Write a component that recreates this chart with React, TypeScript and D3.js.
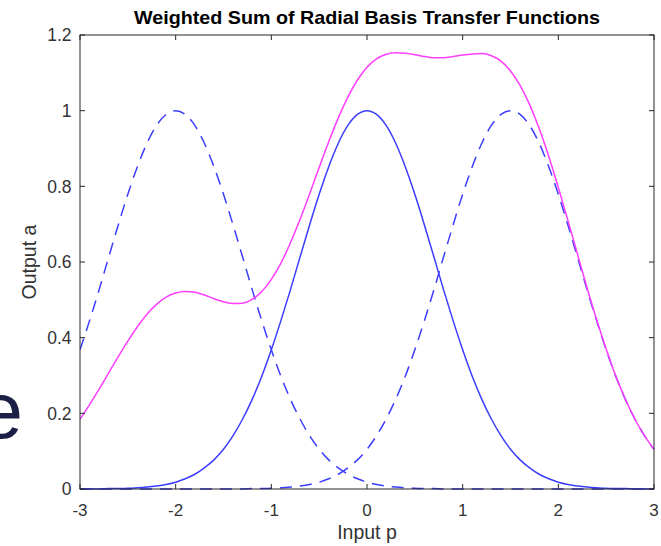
import React from "react";
import * as d3 from "d3";

// Input samples p = -3 : 0.1 : 3
const pValues: number[] = d3.range(61).map((i) => Math.round((i * 0.1 - 3) * 10) / 10);

// radbas(p)
const basisCenter: number[] = [
  0.000, 0.000, 0.000, 0.001, 0.001, 0.002, 0.003, 0.005, 0.008, 0.012,
  0.018, 0.027, 0.039, 0.056, 0.077, 0.105, 0.141, 0.185, 0.237, 0.298,
  0.368, 0.445, 0.527, 0.613, 0.698, 0.779, 0.852, 0.914, 0.961, 0.990,
  1.000, 0.990, 0.961, 0.914, 0.852, 0.779, 0.698, 0.613, 0.527, 0.445,
  0.368, 0.298, 0.237, 0.185, 0.141, 0.105, 0.077, 0.056, 0.039, 0.027,
  0.018, 0.012, 0.008, 0.005, 0.003, 0.002, 0.001, 0.001, 0.000, 0.000,
  0.000,
];

// radbas(p - 1.5)
const basisRight: number[] = [
  0.000, 0.000, 0.000, 0.000, 0.000, 0.000, 0.000, 0.000, 0.000, 0.000,
  0.000, 0.000, 0.000, 0.000, 0.000, 0.000, 0.000, 0.000, 0.001, 0.001,
  0.002, 0.003, 0.005, 0.008, 0.012, 0.018, 0.027, 0.039, 0.056, 0.077,
  0.105, 0.141, 0.185, 0.237, 0.298, 0.368, 0.445, 0.527, 0.613, 0.698,
  0.779, 0.852, 0.914, 0.961, 0.990, 1.000, 0.990, 0.961, 0.914, 0.852,
  0.779, 0.698, 0.613, 0.527, 0.445, 0.368, 0.298, 0.237, 0.185, 0.141,
  0.105,
];

// radbas(p + 2)
const basisLeft: number[] = [
  0.368, 0.445, 0.527, 0.613, 0.698, 0.779, 0.852, 0.914, 0.961, 0.990,
  1.000, 0.990, 0.961, 0.914, 0.852, 0.779, 0.698, 0.613, 0.527, 0.445,
  0.368, 0.298, 0.237, 0.185, 0.141, 0.105, 0.077, 0.056, 0.039, 0.027,
  0.018, 0.012, 0.008, 0.005, 0.003, 0.002, 0.001, 0.001, 0.000, 0.000,
  0.000, 0.000, 0.000, 0.000, 0.000, 0.000, 0.000, 0.000, 0.000, 0.000,
  0.000, 0.000, 0.000, 0.000, 0.000, 0.000, 0.000, 0.000, 0.000, 0.000,
  0.000,
];

// a + a2 + 0.5 * a3
const weightedSum: number[] = [
  0.184, 0.223, 0.264, 0.307, 0.350, 0.391, 0.429, 0.462, 0.488, 0.507,
  0.518, 0.522, 0.520, 0.513, 0.503, 0.495, 0.490, 0.491, 0.501, 0.522,
  0.554, 0.597, 0.651, 0.713, 0.780, 0.850, 0.918, 0.981, 1.036, 1.081,
  1.115, 1.137, 1.149, 1.153, 1.152, 1.148, 1.143, 1.140, 1.140, 1.143,
  1.147, 1.150, 1.151, 1.145, 1.131, 1.105, 1.067, 1.016, 0.953, 0.879,
  0.797, 0.710, 0.621, 0.532, 0.448, 0.370, 0.299, 0.238, 0.185, 0.141,
  0.105,
];

const xTicks: number[] = [-3, -2, -1, 0, 1, 2, 3];
const yTicks: number[] = [0, 0.2, 0.4, 0.6, 0.8, 1, 1.2];

const W = 661;
const H = 546;
const left = 80;
const right = 654;
const top = 35;
const bottom = 489;

const FONT = "Liberation Sans, Arial, Helvetica, sans-serif";
const BLUE = "#3d3dff";
const MAGENTA = "#ff3dff";
const AXIS = "#262626";
const TEXT = "#333333";

export default function App() {
  const x = d3.scaleLinear().domain([-3, 3]).range([left, right]);
  const y = d3.scaleLinear().domain([0, 1.2]).range([bottom, top]);

  const line = (vals: number[]) =>
    d3
      .line<number>()
      .x((_, i) => x(pValues[i]))
      .y((d) => y(d))
      .curve(d3.curveMonotoneX)(vals) || "";

  const tickLen = 5;

  return (
    <svg
      width={W}
      height={H}
      style={{ position: "absolute", left: 0, top: 0, background: "#fff" }}
      fontFamily={FONT}
    >
      <rect x={0} y={0} width={W} height={H} fill="#fff" />

      {/* large overlapping glyph at the left edge */}
      <text
        x={23}
        y={438}
        fontSize={80}
        textAnchor="end"
        fill="#1b1f45"
        fontFamily={FONT}
      >
        e
      </text>

      {/* title */}
      <text
        x={(left + right) / 2}
        y={23.5}
        textAnchor="middle"
        fontSize={19}
        fontWeight="bold"
        fill="#000"
        textLength={466}
        lengthAdjust="spacingAndGlyphs"
      >
        Weighted Sum of Radial Basis Transfer Functions
      </text>

      <g clipPath="url(#plotClip)">
        <defs>
          <clipPath id="plotClip">
            <rect x={left} y={top - 2} width={right - left + 1} height={bottom - top + 3} />
          </clipPath>
        </defs>
        <path d={line(basisCenter)} fill="none" stroke={BLUE} strokeWidth={1.5} />
        <path
          d={line(basisRight)}
          fill="none"
          stroke={BLUE}
          strokeWidth={1.5}
          strokeDasharray="12,8"
        />
        <path
          d={line(basisLeft)}
          fill="none"
          stroke={BLUE}
          strokeWidth={1.5}
          strokeDasharray="12,8"
        />
        <path d={line(weightedSum)} fill="none" stroke={MAGENTA} strokeWidth={1.5} />
      </g>

      {/* axes box */}
      <rect
        x={left}
        y={top}
        width={right - left}
        height={bottom - top}
        fill="none"
        stroke={AXIS}
        strokeWidth={1}
      />

      {xTicks.map((t) => (
        <g key={`x${t}`}>
          <line x1={x(t)} x2={x(t)} y1={bottom} y2={bottom - tickLen} stroke={AXIS} />
          <line x1={x(t)} x2={x(t)} y1={top} y2={top + tickLen} stroke={AXIS} />
          <text
            x={x(t)}
            y={bottom + 27}
            textAnchor="middle"
            fontSize={17}
            fill={TEXT}
          >
            {t}
          </text>
        </g>
      ))}

      {yTicks.map((t) => (
        <g key={`y${t}`}>
          <line x1={left} x2={left + tickLen} y1={y(t)} y2={y(t)} stroke={AXIS} />
          <line x1={right} x2={right - tickLen} y1={y(t)} y2={y(t)} stroke={AXIS} />
          <text
            x={left - 8.5}
            y={y(t) + 6.2}
            textAnchor="end"
            fontSize={17.5}
            fill={TEXT}
          >
            {t}
          </text>
        </g>
      ))}

      <text
        x={(left + right) / 2}
        y={539}
        textAnchor="middle"
        fontSize={19.5}
        fill={TEXT}
      >
        Input p
      </text>
      <text
        transform={`translate(36, ${(top + bottom) / 2}) rotate(-90)`}
        textAnchor="middle"
        fontSize={19.5}
        fill={TEXT}
      >
        Output a
      </text>
    </svg>
  );
}
